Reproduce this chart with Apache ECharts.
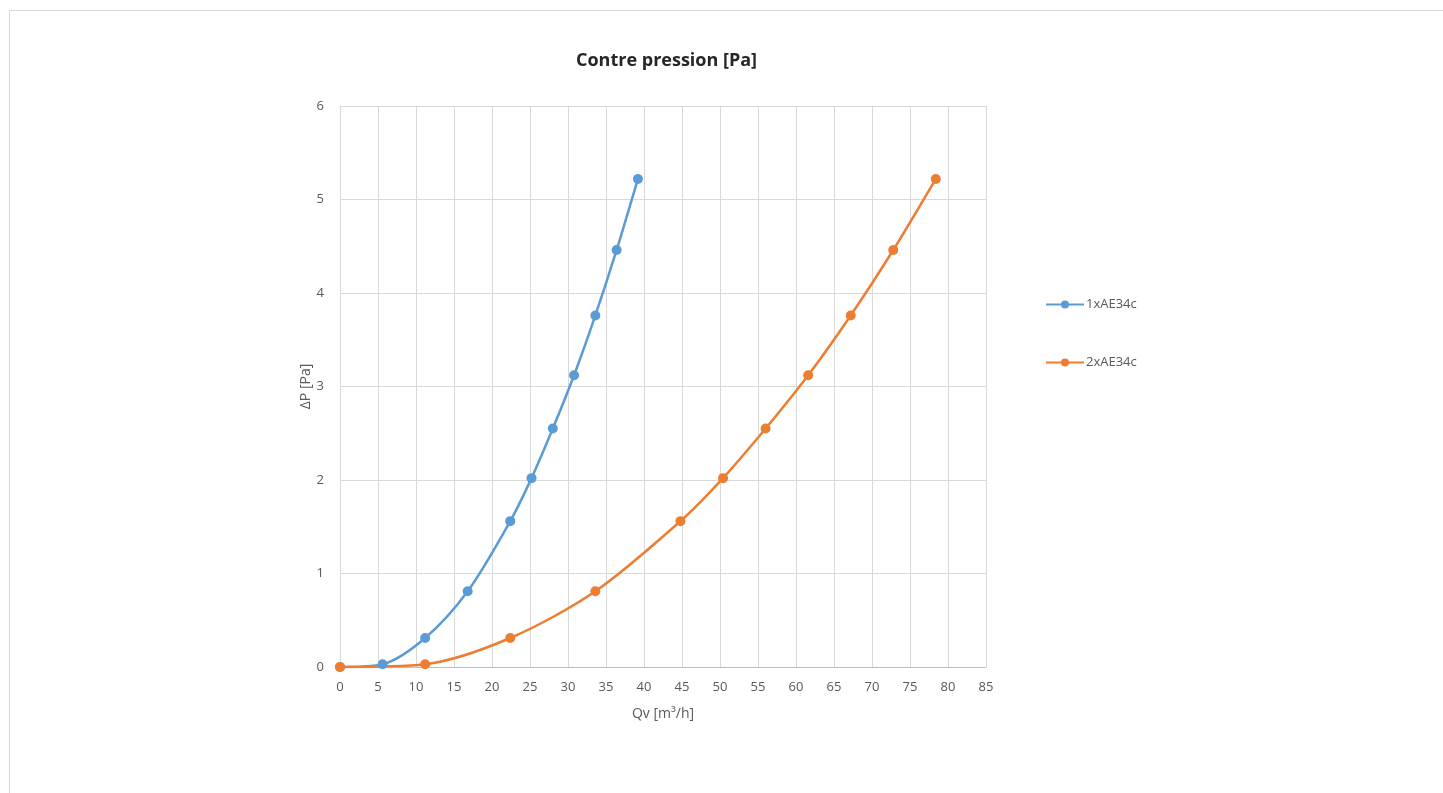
<!DOCTYPE html>
<html>
<head>
<meta charset="utf-8">
<script src="https://cdn.jsdelivr.net/npm/echarts@6/dist/echarts.min.js"></script>
<style>
html,body{margin:0;padding:0;background:#fff;}
#frame{position:absolute;left:9px;top:10px;width:1440px;height:790px;border:1px solid #d9d9d9;box-sizing:border-box;}
#chart{position:absolute;left:0;top:0;width:1443px;height:793px;}
</style>
</head>
<body>
<div id="frame"></div>
<div id="chart"></div>
<script>
const qv1 = [0, 5.6, 11.2, 16.8, 22.4, 25.2, 28.0, 30.8, 33.6, 36.4, 39.2];
const qv2 = [0, 11.2, 22.4, 33.6, 44.8, 50.4, 56.0, 61.6, 67.2, 72.8, 78.4];
const dp = [0, 0.03, 0.31, 0.81, 1.56, 2.02, 2.55, 3.12, 3.76, 4.46, 5.22];
const seriesNames = ['1xAE34c', '2xAE34c'];
const colors = ['#5b9bd5', '#ed7d31'];

const chart = echarts.init(document.getElementById('chart'));
const font = '"Open Sans", "Noto Sans", sans-serif';
chart.setOption({
  animation: false,
  textStyle: {fontFamily: font},
  title: {
    text: 'Contre pression [Pa]',
    left: 571, top: 47,
    textStyle: {fontSize: 18, fontWeight: 'bold', color: '#262626', fontFamily: font}
  },
  legend: {
    orient: 'vertical', left: 1040, top: 293, itemGap: 45,
    itemWidth: 38, itemHeight: 10,
    textStyle: {fontSize: 13, color: '#595959', padding: [0, 0, 0, -3]},
    data: seriesNames
  },
  grid: {left: 340, right: 457, top: 106, bottom: 126},
  xAxis: {
    type: 'value', min: 0, max: 85, interval: 5,
    name: 'Qv [m³/h]', nameLocation: 'middle', nameGap: 40,
    nameTextStyle: {fontSize: 14, color: '#595959'},
    axisLine: {lineStyle: {color: '#bfbfbf'}},
    axisTick: {show: false},
    axisLabel: {fontSize: 13, color: '#595959', margin: 14},
    splitLine: {show: true, lineStyle: {color: '#d9d9d9'}}
  },
  yAxis: {
    type: 'value', min: 0, max: 6, interval: 1,
    name: 'ΔP [Pa]', nameLocation: 'middle', nameGap: 21, nameRotate: 90,
    nameTextStyle: {fontSize: 14, color: '#595959'},
    axisLine: {show: true, lineStyle: {color: '#d9d9d9'}},
    axisTick: {show: false},
    axisLabel: {fontSize: 13, color: '#595959', margin: 16},
    splitLine: {show: true, lineStyle: {color: '#d9d9d9'}}
  },
  series: [
    {
      name: seriesNames[0], type: 'line', smooth: 0.3,
      data: qv1.map((x, i) => [x, dp[i]]),
      symbol: 'circle', symbolSize: 10,
      itemStyle: {color: colors[0]},
      lineStyle: {width: 2.5, color: colors[0]}
    },
    {
      name: seriesNames[1], type: 'line', smooth: 0.3,
      data: qv2.map((x, i) => [x, dp[i]]),
      symbol: 'circle', symbolSize: 10,
      itemStyle: {color: colors[1]},
      lineStyle: {width: 2.5, color: colors[1]}
    }
  ]
});
</script>
</body>
</html>
